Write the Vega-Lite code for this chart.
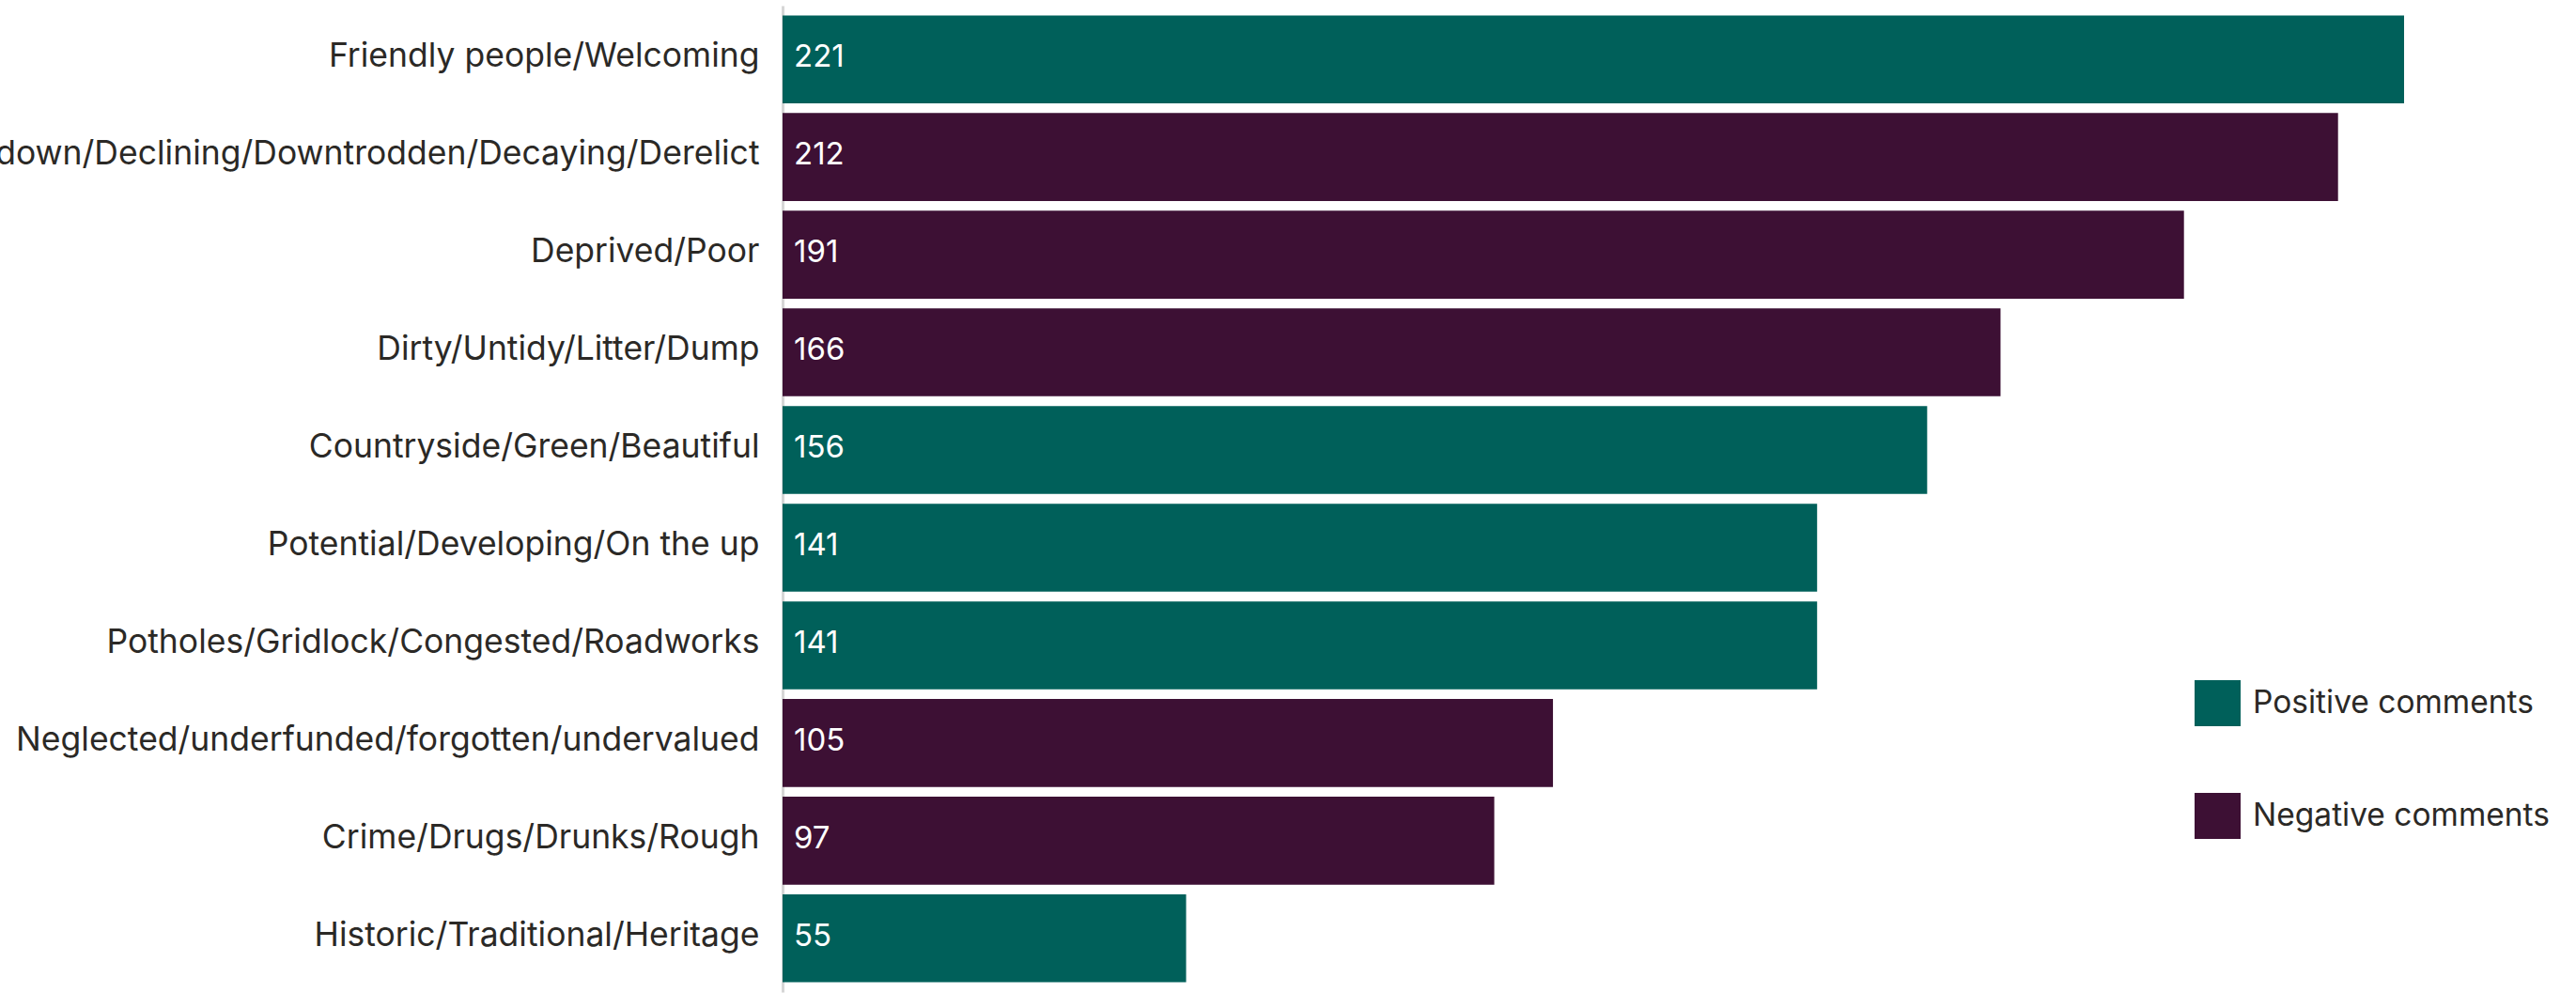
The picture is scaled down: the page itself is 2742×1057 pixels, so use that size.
{
  "$schema": "https://vega.github.io/schema/vega-lite/v6.json",
  "autosize": {"type": "none"},
  "padding": {"left": 833, "top": 6, "right": 183, "bottom": 1},
  "width": 1726,
  "height": 1050,
  "background": "white",
  "config": {
    "view": {"stroke": null},
    "font": "Inter"
  },
  "data": {
    "values": [
      {"label": "Friendly people/Welcoming", "count": 221, "type": "Positive comments"},
      {"label": "Run down/Declining/Downtrodden/Decaying/Derelict", "count": 212, "type": "Negative comments"},
      {"label": "Deprived/Poor", "count": 191, "type": "Negative comments"},
      {"label": "Dirty/Untidy/Litter/Dump", "count": 166, "type": "Negative comments"},
      {"label": "Countryside/Green/Beautiful", "count": 156, "type": "Positive comments"},
      {"label": "Potential/Developing/On the up", "count": 141, "type": "Positive comments"},
      {"label": "Potholes/Gridlock/Congested/Roadworks", "count": 141, "type": "Positive comments"},
      {"label": "Neglected/underfunded/forgotten/undervalued", "count": 105, "type": "Negative comments"},
      {"label": "Crime/Drugs/Drunks/Rough", "count": 97, "type": "Negative comments"},
      {"label": "Historic/Traditional/Heritage", "count": 55, "type": "Positive comments"}
    ]
  },
  "encoding": {
    "y": {
      "field": "label",
      "type": "nominal",
      "sort": null,
      "scale": {"paddingInner": 0.1, "paddingOuter": 0.1},
      "axis": {
        "title": null,
        "ticks": false,
        "tickSize": 0,
        "labelPadding": 25,
        "labelOffset": -3,
        "labelLimit": 0,
        "labelFontSize": 35.5,
        "labelFont": "Inter",
        "labelColor": "#2b2926",
        "domainColor": "#d6d6d6",
        "domainWidth": 3,
        "grid": false
      }
    }
  },
  "layer": [
    {
      "mark": {"type": "bar"},
      "encoding": {
        "x": {
          "field": "count",
          "type": "quantitative",
          "scale": {"domain": [0, 221], "nice": false, "zero": true},
          "axis": null
        },
        "color": {
          "field": "type",
          "type": "nominal",
          "scale": {
            "domain": ["Positive comments", "Negative comments"],
            "range": ["#00605a", "#3d1034"]
          },
          "legend": {
            "title": null,
            "orient": "none",
            "legendX": 1503,
            "legendY": 718,
            "symbolType": "square",
            "symbolSize": 2401,
            "symbolStrokeWidth": 0,
            "labelFontSize": 33.5,
            "labelFont": "Inter",
            "labelColor": "#2b2926",
            "labelOffset": 13,
            "rowPadding": 71,
            "labelLimit": 0,
            "padding": 0
          }
        }
      }
    },
    {
      "mark": {"type": "text", "align": "left", "baseline": "middle", "dx": 12, "dy": -2, "fontSize": 33, "font": "Inter", "color": "white"},
      "encoding": {
        "x": {"datum": 0, "type": "quantitative"},
        "text": {"field": "count", "type": "quantitative"}
      }
    }
  ]
}
